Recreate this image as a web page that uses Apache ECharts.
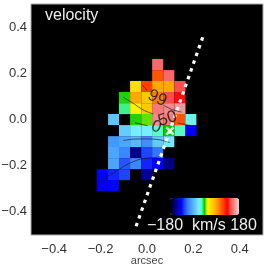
<!DOCTYPE html>
<html><head><meta charset="utf-8">
<style>html,body{margin:0;padding:0;background:#fff}#c{width:266px;height:268px}</style>
<script src="https://cdn.jsdelivr.net/npm/echarts@6/dist/echarts.min.js"></script>
</head><body><div id="c"></div>
<script>
const xCenters = [-0.192,-0.144,-0.097,-0.049,-0.001,0.046,0.094,0.142,0.189];
const yCenters = [0.238,0.190,0.143,0.095,0.047,0,-0.048,-0.096,-0.143,-0.191,-0.239,-0.286];
const cellSize = 0.0477;
const _ = null;
const velocity = [
 [_,_,_,_,_,144,_,_,_],
 [_,_,_,_,_,90,144,_,_],
 [_,_,_,30,97,60,60,135,_],
 [_,_,2,60,45,75,135,122,_],
 [_,_,-11,22,45,150,155,160,_],
 [_,-50,_,2,6,155,150,90,-25],
 [_,_,-45,-30,-30,-18,0,-15,-122],
 [_,-75,-68,-58,-80,-47,-32,_,_],
 [_,-68,-83,-150,-105,-90,_,_,_],
 [_,-68,-100,-83,-112,-120,-151,_,_],
 [-120,-112,-105,_,-148,_,_,_,_],
 [-126,-120,_,_,_,_,_,_,_]
];
const colorStops = ['#000000','#000044','#000088','#0000c4','#0000ff','#1f44ff','#3377ff','#4499ff','#55b4ff','#66ccff','#77eeff','#55ffbb','#00cc00','#ffff00','#ffe000','#ffc800','#ffa800','#ff8000','#ff5500','#ff2a00','#ff0000','#f85050','#f47a7a','#f0a8a8','#e8d0d0'];
const contours = [
 [[-0.102,0.096],[-0.059,0.070],[-0.016,0.041],[0.027,0.024]],
 [[-0.052,-0.014],[0.003,-0.027]],
 [[-0.020,0.149],[0.001,0.127]],
 [[0.073,0.061],[0.106,0.044],[0.149,0.032]],
 [[0.132,-0.015],[0.200,-0.029]],
 [[-0.102,-0.091],[-0.059,-0.085],[-0.002,-0.084],[0.056,-0.088],[0.099,-0.100]],
 [[-0.203,-0.265],[-0.145,-0.232],[-0.088,-0.196],[-0.030,-0.172],[0.027,-0.165],[0.053,-0.163]]
];
const contourLabels = [
 {text:'99',at:[0.044,0.092],rot:-25},
 {text:'50',at:[0.089,0.003],rot:18},
 {text:'0',at:[0.040,-0.032],rot:-20}
];
const slit = [[-0.047,-0.462],[0.243,0.364]];
const cross = [0.099,-0.050];
const ticks = [-0.4,-0.2,0,0.2,0.4];

const cells = [];
velocity.forEach((row,r)=>row.forEach((v,c)=>{ if(v!==null) cells.push([xCenters[c],yCenters[r],v]); }));
const fmt = v => (v<0?'\u2212':'')+Math.abs(v).toFixed(1);
const font = 'Liberation Sans, Arial, sans-serif';
const axisCommon = {
  type:'value',min:-0.5,max:0.5,
  splitLine:{show:false},axisTick:{show:false},axisLine:{show:false},
};
const chart = echarts.init(document.getElementById('c'),null,{renderer:'canvas'});
const series = [{
  type:'custom',coordinateSystem:'cartesian2d',data:cells,encode:{x:0,y:1},z:1,clip:true,
  renderItem(params,api){
    const x=api.value(0),y=api.value(1),h=cellSize/2;
    const a=api.coord([x-h,y+h]),b=api.coord([x+h,y-h]);
    return {type:'rect',shape:{x:a[0],y:a[1],width:b[0]-a[0],height:b[1]-a[1]},style:{fill:api.visual('color')}};
  }
}];
contours.forEach(line=>series.push({type:'line',data:line,showSymbol:false,symbol:'none',z:3,smooth:0.3,silent:true,
  lineStyle:{color:'#1a1a2a',width:0.8,opacity:0.85}}));
series.push({type:'line',data:slit,symbol:'none',z:4,silent:true,
  lineStyle:{color:'#fff',width:3.2,type:[3.5,4.7]}});
series.push({type:'scatter',data:[cross],z:5,symbolSize:9,silent:true,
  symbol:'path://M0 2L2 0L5 3L8 0L10 2L7 5L10 8L8 10L5 7L2 10L0 8L3 5Z',itemStyle:{color:'#fff'}});
series.push({type:'scatter',z:6,symbolSize:0,silent:true,
  data:contourLabels.map(l=>({value:l.at,label:{show:true,formatter:l.text,rotate:l.rot,position:'inside',
    color:'#111',fontSize:17,fontFamily:font}}))});
chart.setOption({
  animation:false,
  backgroundColor:'#fff',
  grid:{left:31,top:4,width:232,height:231,outerBoundsMode:'none',containLabel:false,show:true,backgroundColor:'#000',borderColor:'#aaa',borderWidth:1},
  xAxis:Object.assign({},axisCommon,{
    name:'arcsec',nameLocation:'middle',nameGap:20,nameMoveOverlap:false,
    nameTextStyle:{color:'#444',fontSize:11,fontFamily:font},
    axisLabel:{customValues:ticks,formatter:fmt,color:'#333',fontSize:13,fontFamily:font,margin:8}
  }),
  yAxis:Object.assign({},axisCommon,{
    axisLabel:{customValues:ticks,formatter:fmt,color:'#333',fontSize:13,fontFamily:font,margin:4}
  }),
  visualMap:{type:'continuous',min:-180,max:180,seriesIndex:0,dimension:2,calculable:false,
    orient:'horizontal',left:170,top:198,itemWidth:17,itemHeight:69,text:null,showLabel:false,
    inRange:{color:colorStops},borderWidth:0,padding:0,textStyle:{color:'transparent',fontSize:1}},
  title:[
    {text:'velocity',left:45,top:8,padding:0,textStyle:{color:'#eee',fontSize:16,fontWeight:'normal',fontFamily:font}},
    {text:'\u2212180  km/s 180',left:147,top:218,padding:0,textStyle:{color:'#eee',fontSize:16,fontWeight:'normal',fontFamily:font}}
  ],
  series
});
</script></body></html>
